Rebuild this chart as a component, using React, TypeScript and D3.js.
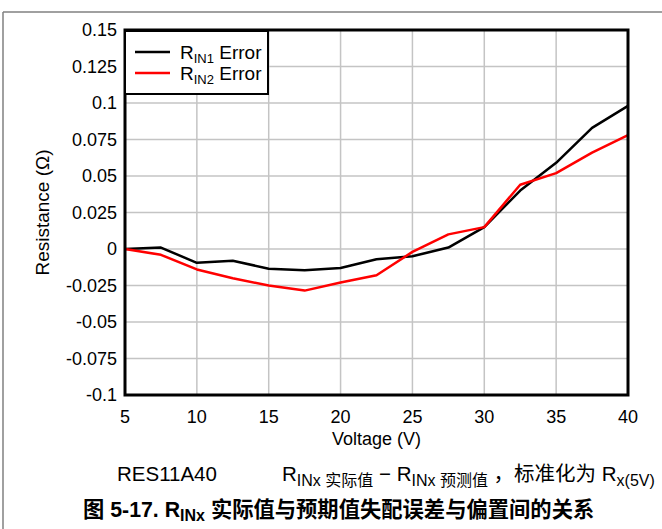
import React from "react";
import * as d3 from "d3";

// Bias voltage (V) at each measurement point
const volts = [5, 7.5, 10, 12.5, 15, 17.5, 20, 22.5, 25, 27.5, 30, 32.5, 35, 37.5, 40];
// R_IN1 mismatch error (Ω)
const rin1Error = [0, 0.001, -0.0095, -0.008, -0.0135, -0.0145, -0.013, -0.007, -0.005, 0.001, 0.015, 0.04, 0.059, 0.083, 0.098];
// R_IN2 mismatch error (Ω)
const rin2Error = [0, -0.004, -0.014, -0.02, -0.025, -0.0285, -0.023, -0.018, -0.002, 0.01, 0.015, 0.044, 0.052, 0.066, 0.078];

const xTicks = [5, 10, 15, 20, 25, 30, 35, 40];
const yTicks = [0.15, 0.125, 0.1, 0.075, 0.05, 0.025, 0, -0.025, -0.05, -0.075, -0.1];
const yTickLabels = ["0.15", "0.125", "0.1", "0.075", "0.05", "0.025", "0", "-0.025", "-0.05", "-0.075", "-0.1"];

const W = 662;
const H = 529;
const FONT = "'Liberation Sans', Arial, 'Noto Sans CJK SC', sans-serif";

export default function App() {
  const left = 125, right = 628, top = 30, bottom = 395;
  const x = d3.scaleLinear().domain([5, 40]).range([left, right]);
  const y = d3.scaleLinear().domain([-0.1, 0.15]).range([bottom, top]);
  const line = d3
    .line<[number, number]>()
    .x((d) => x(d[0]))
    .y((d) => y(d[1]));
  const path1 = line(volts.map((v, i) => [v, rin1Error[i]]) as [number, number][]) || "";
  const path2 = line(volts.map((v, i) => [v, rin2Error[i]]) as [number, number][]) || "";

  return (
    <svg
      width={W}
      height={H}
      style={{ position: "absolute", left: 0, top: 0, background: "#fff" }}
      fontFamily={FONT}
    >
      {/* page frame */}
      <line x1={3} y1={12} x2={W} y2={12} stroke="#808080" strokeWidth={1.5} />
      <line x1={3} y1={12} x2={3} y2={H} stroke="#808080" strokeWidth={1.5} />

      {/* grid */}
      {xTicks.map((t) => (
        <line key={"gx" + t} x1={x(t)} x2={x(t)} y1={top} y2={bottom} stroke="#c4c4c4" strokeWidth={1.5} />
      ))}
      {yTicks.map((t) => (
        <line key={"gy" + t} x1={left} x2={right} y1={y(t)} y2={y(t)} stroke="#c4c4c4" strokeWidth={1.5} />
      ))}

      {/* series */}
      <path d={path1} fill="none" stroke="#000" strokeWidth={2.5} strokeLinejoin="round" />
      <path d={path2} fill="none" stroke="#ff0000" strokeWidth={2.5} strokeLinejoin="round" />

      {/* plot border */}
      <rect x={left} y={top} width={right - left} height={bottom - top} fill="none" stroke="#000" strokeWidth={3} />

      {/* legend */}
      <rect x={125} y={31} width={143} height={63} fill="#fff" stroke="#000" strokeWidth={2} />
      <line x1={135} x2={170} y1={52} y2={52} stroke="#000" strokeWidth={2.5} />
      <line x1={135} x2={170} y1={73} y2={73} stroke="#ff0000" strokeWidth={2.5} />
      <text x={180} y={59} fontSize={19}>
        R<tspan dy={4} fontSize={13}>IN1</tspan>
        <tspan dy={-4}> Error</tspan>
      </text>
      <text x={180} y={80} fontSize={19}>
        R<tspan dy={4} fontSize={13}>IN2</tspan>
        <tspan dy={-4}> Error</tspan>
      </text>

      {/* y tick labels */}
      {yTicks.map((t, i) => (
        <text key={"yl" + t} x={117} y={y(t) + 6} fontSize={18} textAnchor="end">
          {yTickLabels[i]}
        </text>
      ))}
      {/* x tick labels */}
      {xTicks.map((t) => (
        <text key={"xl" + t} x={x(t)} y={423} fontSize={18} textAnchor="middle">
          {t}
        </text>
      ))}

      {/* axis titles */}
      <text x={(left + right) / 2} y={445} fontSize={18} textAnchor="middle">
        Voltage (V)
      </text>
      <text
        transform={`translate(49, ${(top + bottom) / 2}) rotate(-90)`}
        fontSize={19}
        textAnchor="middle"
      >
        Resistance (Ω)
      </text>

      {/* captions */}
      <text x={117} y={481} fontSize={20.5}>
        RES11A40
      </text>
      <text x={282} y={481} fontSize={20.5}>
        R<tspan dy={5} fontSize={16}>INx 实际值</tspan>
        <tspan dy={-5}> − R</tspan>
        <tspan dy={5} fontSize={16}>INx 预测值</tspan>
        <tspan dy={-5}> ，标准化为 R</tspan>
        <tspan dy={5} fontSize={16}>x(5V)</tspan>
      </text>
      <text x={83} y={517} fontSize={21.3} fontWeight="bold">
        图 5-17. R<tspan dy={4} fontSize={16}>INx</tspan>
        <tspan dy={-4}> 实际值与预期值失配误差与偏置间的关系</tspan>
      </text>
    </svg>
  );
}
